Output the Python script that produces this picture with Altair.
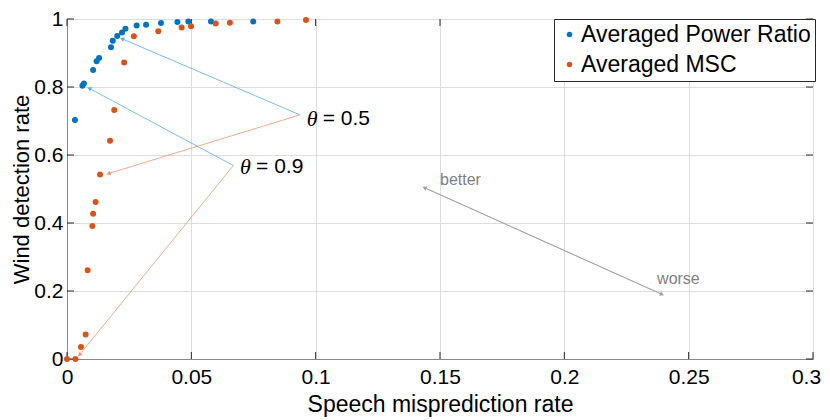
import math
import altair as alt
import pandas as pd

# ---- data ----
pr_x = [0.0032, 0.0062, 0.0068, 0.0105, 0.0119, 0.0129, 0.0177, 0.0184, 0.0202,
        0.0221, 0.0235, 0.0280, 0.0318, 0.0378, 0.0444, 0.0488, 0.0579, 0.0749]
pr_y = [0.703, 0.804, 0.810, 0.850, 0.876, 0.885, 0.917, 0.936, 0.950,
        0.960, 0.971, 0.981, 0.983, 0.988, 0.991, 0.993, 0.993, 0.993]
msc_x = [0.0, 0.0034, 0.0056, 0.0075, 0.0083, 0.0102, 0.0105, 0.0115, 0.0133, 0.0173,
         0.0190, 0.0230, 0.0269, 0.0367, 0.0461, 0.0499, 0.0598, 0.0655, 0.0846, 0.0961]
msc_y = [0.0, 0.0, 0.035, 0.072, 0.261, 0.391, 0.427, 0.462, 0.543, 0.642,
         0.732, 0.872, 0.949, 0.964, 0.975, 0.979, 0.987, 0.989, 0.993, 0.997]
series = ["Averaged Power Ratio", "Averaged MSC"]
colors = ["#0072BD", "#D95319"]

x_ticks = [0, 0.05, 0.1, 0.15, 0.2, 0.25, 0.3]
y_ticks = [0, 0.2, 0.4, 0.6, 0.8, 1.0]

# annotation arrows: start -> tip (data coords)
arr_x1 = [0.0937, 0.0937, 0.0669, 0.0669, 0.1440, 0.2390]
arr_y1 = [0.718, 0.718, 0.569, 0.569, 0.503, 0.191]
arr_x2 = [0.0224, 0.0169, 0.0092, 0.0052, 0.2390, 0.1440]
arr_y2 = [0.941, 0.546, 0.795, 0.014, 0.191, 0.503]
arr_col = ["#5AAAE2", "#F2946C", "#5AAAE2", "#F2946C", "#A0A0A0", "#A0A0A0"]

theta_x = [0.0964, 0.0696]
theta_y = [0.706, 0.565]
theta_lbl = ["= 0.5", "= 0.9"]

note_x = [0.1500, 0.2373]
note_y = [0.527, 0.235]
note_lbl = ["better", "worse"]

W, H = 746, 340
XMAX, YMAX = 0.3, 1.0
FONT = "Liberation Sans"

pts = pd.DataFrame({
    "x": pr_x + msc_x,
    "y": pr_y + msc_y,
    "s": [series[0]] * len(pr_x) + [series[1]] * len(msc_x),
})


def head_angle(x1, y1, x2, y2):
    dx = (x2 - x1) * W / XMAX
    dy = -(y2 - y1) * H / YMAX
    return math.degrees(math.atan2(dx, -dy)) % 360

arr = pd.DataFrame({"x1": arr_x1, "y1": arr_y1, "x2": arr_x2, "y2": arr_y2, "c": arr_col})
arr["ang"] = [head_angle(a, b, c, d) for a, b, c, d in zip(arr_x1, arr_y1, arr_x2, arr_y2)]

xs = alt.Scale(domain=[0, XMAX], nice=False)
ys = alt.Scale(domain=[0, YMAX], nice=False)

base_x = alt.X("x:Q", scale=xs, title="Speech misprediction rate",
               axis=alt.Axis(values=x_ticks, format="~g", ticks=False, grid=True,
                             labelFontSize=21, titleFontSize=23, labelPadding=7,
                             titlePadding=6, labelFlush=False,
                             labelOffset={"condition": {"test": "datum.value >= 0.29", "value": -7},
                                          "value": 0},
                             titleFontWeight="normal", titleFont=FONT, labelFont=FONT))
base_y = alt.Y("y:Q", scale=ys, title="Wind detection rate",
               axis=alt.Axis(values=y_ticks, format="~g", ticks=False, grid=True,
                             labelFontSize=21, titleFontSize=22, labelPadding=4,
                             titlePadding=0, labelFlush=False,
                             titleFontWeight="normal", titleFont=FONT, labelFont=FONT))

points = alt.Chart(pts).mark_circle(size=36, opacity=1).encode(
    x=base_x, y=base_y,
    color=alt.Color("s:N", scale=alt.Scale(domain=series, range=colors), sort=series,
                    legend=alt.Legend(title=None, orient="none", legendX=487, legendY=0,
                                      labelFontSize=23, symbolType="circle", symbolSize=30,
                                      strokeColor="#262626", fillColor="white",
                                      padding=4, rowPadding=6, labelOffset=0,
                                      labelLimit=400, cornerRadius=0, labelFont=FONT)),
)

shafts = alt.Chart(arr).mark_rule(strokeWidth=0.8).encode(
    x=alt.X("x1:Q", scale=xs), y=alt.Y("y1:Q", scale=ys),
    x2="x2:Q", y2="y2:Q", color=alt.Color("c:N", scale=None),
)
heads = alt.Chart(arr).mark_point(shape="triangle", size=22, filled=True, opacity=1).encode(
    x=alt.X("x2:Q", scale=xs), y=alt.Y("y2:Q", scale=ys),
    angle=alt.Angle("ang:Q", scale=None), color=alt.Color("c:N", scale=None),
)

th = pd.DataFrame({"x": theta_x, "y": theta_y, "t": theta_lbl})
theta_sym = alt.Chart(th).mark_text(text="θ", align="left", baseline="middle",
                                    font="Liberation Serif", fontStyle="italic",
                                    fontSize=22, color="black").encode(
    x=alt.X("x:Q", scale=xs), y=alt.Y("y:Q", scale=ys))
theta_txt = alt.Chart(th).mark_text(align="left", baseline="middle", dx=16,
                                    font=FONT, fontSize=21, color="black").encode(
    x=alt.X("x:Q", scale=xs), y=alt.Y("y:Q", scale=ys), text="t:N")

nt = pd.DataFrame({"x": note_x, "y": note_y, "t": note_lbl})
notes = alt.Chart(nt).mark_text(align="left", baseline="middle", font=FONT,
                                fontSize=16, color="#7f7f7f").encode(
    x=alt.X("x:Q", scale=xs), y=alt.Y("y:Q", scale=ys), text="t:N")

# inward ticks on all four sides
xt = pd.DataFrame({"x": x_ticks})
yt = pd.DataFrame({"y": y_ticks})
tk = dict(color="#262626", strokeWidth=1)
tick_b = alt.Chart(xt).mark_rule(**tk).encode(x=alt.X("x:Q", scale=xs), y=alt.value(H), y2=alt.value(H - 7))
tick_t = alt.Chart(xt).mark_rule(**tk).encode(x=alt.X("x:Q", scale=xs), y=alt.value(0), y2=alt.value(7))
tick_l = alt.Chart(yt).mark_rule(**tk).encode(y=alt.Y("y:Q", scale=ys), x=alt.value(0), x2=alt.value(7))
tick_r = alt.Chart(yt).mark_rule(**tk).encode(y=alt.Y("y:Q", scale=ys), x=alt.value(W), x2=alt.value(W - 7))

chart = alt.layer(
    shafts, heads, tick_b, tick_t, tick_l, tick_r, points, theta_sym, theta_txt, notes
).properties(
    width=W, height=H,
    autosize=alt.AutoSizeParams(type="none"),
    padding={"left": 59, "top": 11, "right": 8, "bottom": 59},
).configure_view(
    stroke="#262626", strokeWidth=1,
).configure_axis(
    labelColor="#262626", titleColor="#262626",
    domainColor="#262626", gridColor="#E3E3E3", gridWidth=1,
).configure(background="white")

chart.save("out.html", embed_options={"renderer": "svg", "actions": False})
